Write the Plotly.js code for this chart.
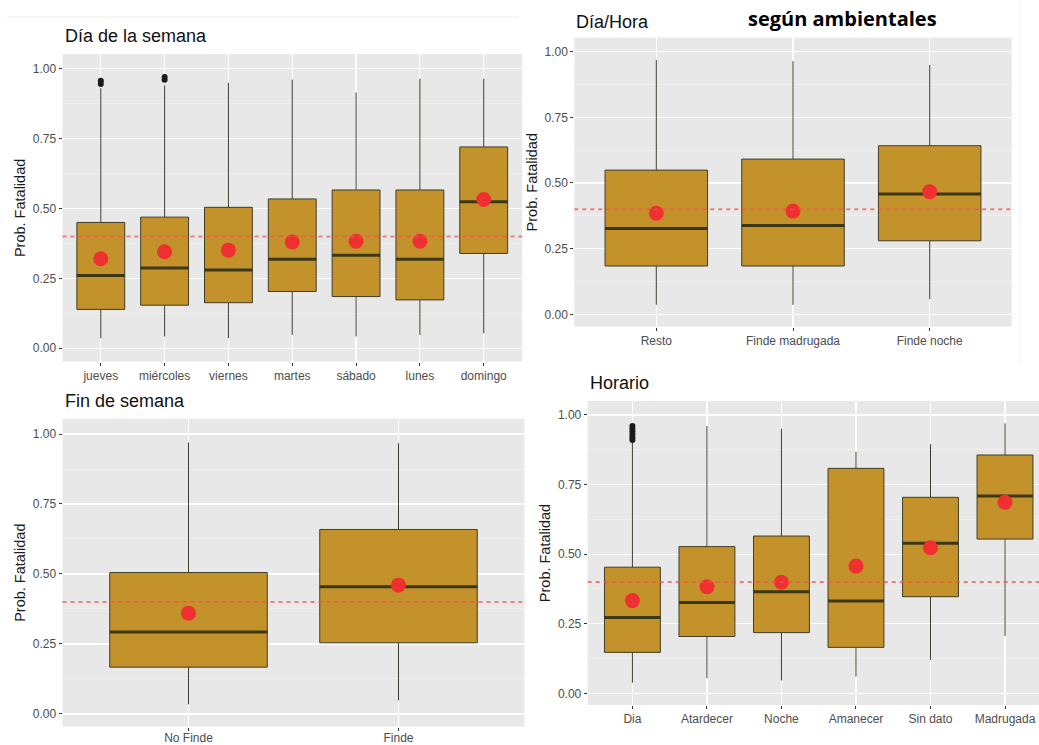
<!DOCTYPE html>
<html>
<head>
<meta charset="utf-8">
<script src="https://cdn.plot.ly/plotly-3.0.1.min.js"></script>
<style>html,body{margin:0;padding:0;background:#fff}#chart{width:1039px;height:745px}</style>
</head>
<body>
<div id="chart"></div>
<script>
// ---------- Data ----------
// Panel 1: Día de la semana
const dayCats  = ['jueves','miércoles','viernes','martes','sábado','lunes','domingo'];
const dayLow   = [0.036, 0.042, 0.036, 0.048, 0.042, 0.048, 0.054];
const dayQ1    = [0.139, 0.154, 0.163, 0.203, 0.185, 0.173, 0.339];
const dayMed   = [0.260, 0.287, 0.280, 0.318, 0.333, 0.318, 0.524];
const dayQ3    = [0.450, 0.469, 0.504, 0.534, 0.566, 0.566, 0.720];
const dayHigh  = [0.930, 0.940, 0.949, 0.961, 0.915, 0.964, 0.964];
const dayMean  = [0.320, 0.345, 0.351, 0.380, 0.383, 0.383, 0.532];
const dayOutCat = ['jueves','jueves','miércoles','miércoles'];
const dayOutVal = [0.945, 0.957, 0.960, 0.970];

// Panel 2: Día/Hora
const dhCats  = ['Resto','Finde madrugada','Finde noche'];
const dhLow   = [0.036, 0.036, 0.058];
const dhQ1    = [0.184, 0.184, 0.280];
const dhMed   = [0.327, 0.338, 0.458];
const dhQ3    = [0.549, 0.591, 0.642];
const dhHigh  = [0.968, 0.964, 0.949];
const dhMean  = [0.385, 0.393, 0.467];

// Panel 3: Fin de semana
const finCats = ['No Finde','Finde'];
const finLow  = [0.034, 0.048];
const finQ1   = [0.167, 0.254];
const finMed  = [0.293, 0.454];
const finQ3   = [0.505, 0.659];
const finHigh = [0.970, 0.967];
const finMean = [0.360, 0.460];

// Panel 4: Horario
const horCats = ['Dia','Atardecer','Noche','Amanecer','Sin dato','Madrugada'];
const horLow  = [0.038, 0.054, 0.046, 0.060, 0.120, 0.206];
const horQ1   = [0.147, 0.204, 0.218, 0.165, 0.347, 0.554];
const horMed  = [0.272, 0.326, 0.365, 0.332, 0.539, 0.709];
const horQ3   = [0.453, 0.527, 0.565, 0.808, 0.704, 0.856];
const horHigh = [0.900, 0.960, 0.950, 0.868, 0.895, 0.970];
const horMean = [0.333, 0.383, 0.399, 0.457, 0.523, 0.686];
const horOutCat = ['Dia','Dia','Dia','Dia','Dia','Dia'];
const horOutVal = [0.910, 0.920, 0.930, 0.940, 0.950, 0.960];

const refLine = 0.40;
const yTicks = [0, 0.25, 0.5, 0.75, 1.0];
const yTickText = ['0.00','0.25','0.50','0.75','1.00'];

// ---------- Styles ----------
const FILL = '#C4922A';
const EDGE = '#3f3d2a';
const MED  = '#3a3814';
const RED  = '#EF3030';
const BOXW = 0.75;

const panels = [
  {cats: dayCats, low: dayLow, q1: dayQ1, med: dayMed, q3: dayQ3, high: dayHigh, mean: dayMean, outCat: dayOutCat, outVal: dayOutVal, ax: ''},
  {cats: dhCats, low: dhLow, q1: dhQ1, med: dhMed, q3: dhQ3, high: dhHigh, mean: dhMean, outCat: [], outVal: [], ax: '2'},
  {cats: finCats, low: finLow, q1: finQ1, med: finMed, q3: finQ3, high: finHigh, mean: finMean, outCat: [], outVal: [], ax: '3'},
  {cats: horCats, low: horLow, q1: horQ1, med: horMed, q3: horQ3, high: horHigh, mean: horMean, outCat: horOutCat, outVal: horOutVal, ax: '4'}
];

const traces = [];
const shapes = [];
panels.forEach(p => {
  const idx = p.cats.map((c, i) => i);
  const xa = 'x' + p.ax, ya = 'y' + p.ax;
  traces.push({
    type: 'box', xaxis: xa, yaxis: ya, x: idx,
    q1: p.q1, median: p.med, q3: p.q3, lowerfence: p.low, upperfence: p.high,
    width: BOXW, whiskerwidth: 0, fillcolor: FILL,
    line: {color: EDGE, width: 1}, boxpoints: false, showlegend: false, hoverinfo: 'skip'
  });
  // thick median segments
  const mx = [], my = [];
  idx.forEach(i => { mx.push(i - BOXW / 2, i + BOXW / 2, null); my.push(p.med[i], p.med[i], null); });
  traces.push({type: 'scatter', mode: 'lines', xaxis: xa, yaxis: ya, x: mx, y: my,
    line: {color: MED, width: 3}, showlegend: false, hoverinfo: 'skip'});
  // outliers
  if (p.outCat.length) {
    traces.push({type: 'scatter', mode: 'markers', xaxis: xa, yaxis: ya,
      x: p.outCat.map(c => p.cats.indexOf(c)), y: p.outVal,
      marker: {color: '#1a1a1a', size: 6}, showlegend: false, hoverinfo: 'skip'});
  }
  // means
  traces.push({type: 'scatter', mode: 'markers', xaxis: xa, yaxis: ya, x: idx, y: p.mean,
    marker: {color: RED, size: 15}, showlegend: false});
  // reference line
  shapes.push({type: 'line', xref: xa + ' domain', yref: ya, x0: 0, x1: 1, y0: refLine, y1: refLine,
    line: {color: 'rgba(245,80,80,0.7)', width: 2, dash: '4px,4px'}, layer: 'above'});
});

function xAxis(cats, domain, anchor, rmax, standoff) {
  return {domain: domain, anchor: anchor, range: [-0.6, rmax], tickmode: 'array',
    tickvals: cats.map((c, i) => i), ticktext: cats, showgrid: true, gridcolor: '#FFFFFF', gridwidth: 1.2,
    zeroline: false, showline: false, ticks: 'outside', ticklen: 3, tickcolor: '#333333',
    ticklabelstandoff: standoff || 0,
    tickfont: {family: 'Liberation Sans, Arial, sans-serif', size: 12, color: '#4D4D4D'}, fixedrange: true};
}
function yAxis(domain, anchor, range) {
  return {domain: domain, anchor: anchor, range: range, tickmode: 'array', tickvals: yTicks, ticktext: yTickText,
    showgrid: true, gridcolor: '#FFFFFF', gridwidth: 1.2, zeroline: false, showline: false,
    minor: {tickvals: [0.125, 0.375, 0.625, 0.875], showgrid: true, gridcolor: '#F4F4F4', gridwidth: 0.6},
    ticks: 'outside', ticklen: 3, tickcolor: '#333333',
    tickfont: {family: 'Liberation Sans, Arial, sans-serif', size: 12, color: '#4D4D4D'},
    title: {text: 'Prob. Fatalidad', standoff: 3, font: {family: 'Liberation Sans, Arial, sans-serif', size: 14.5, color: '#1a1a1a'}},
    fixedrange: true};
}

const W = 1039, H = 745;
const px = v => v / W, py = v => 1 - v / H;

// faint frame artefacts of the composed image
shapes.push({type: 'line', xref: 'paper', yref: 'paper', x0: px(7), x1: px(519), y0: py(17), y1: py(17), line: {color: '#EDEDED', width: 1}});
shapes.push({type: 'line', xref: 'paper', yref: 'paper', x0: px(1020), x1: px(1020), y0: py(0), y1: py(365), line: {color: '#F0F0F0', width: 1}});
shapes.push({type: 'line', xref: 'paper', yref: 'paper', x0: px(523), x1: px(523), y0: py(418), y1: py(720), line: {color: '#EDEDED', width: 1}});

const titleFont = {family: 'Liberation Sans, Arial, sans-serif', size: 18, color: '#111111'};
const layout = {
  width: W, height: H, margin: {l: 0, r: 0, t: 0, b: 0},
  paper_bgcolor: '#FFFFFF', plot_bgcolor: '#E8E8E8', showlegend: false,
  xaxis:  xAxis(dayCats, [px(62.5), px(522)], 'y', 6.6),
  yaxis:  yAxis([py(361.7), py(54.1)], 'x', [-0.048, 1.052]),
  xaxis2: xAxis(dhCats, [px(574.3), px(1011.7)], 'y2', 2.6),
  yaxis2: yAxis([py(326.7), py(37.7)], 'x2', [-0.047, 1.053]),
  xaxis3: xAxis(finCats, [px(62.5), px(524.5)], 'y3', 1.6, -3),
  yaxis3: yAxis([py(726.5), py(418.9)], 'x3', [-0.045, 1.054]),
  xaxis4: xAxis(horCats, [px(587.7), 1], 'y4', 5.456),
  yaxis4: yAxis([py(705), py(401)], 'x4', [-0.042, 1.05]),
  shapes: shapes,
  annotations: [
    {text: 'Día de la semana', xref: 'paper', yref: 'paper', x: px(62.5), y: py(35.5), xanchor: 'left', yanchor: 'middle', showarrow: false, font: titleFont},
    {text: 'Día/Hora', xref: 'paper', yref: 'paper', x: px(574), y: py(22), xanchor: 'left', yanchor: 'middle', showarrow: false, font: titleFont},
    {text: 'Fin de semana', xref: 'paper', yref: 'paper', x: px(62.5), y: py(401), xanchor: 'left', yanchor: 'middle', showarrow: false, font: titleFont},
    {text: 'Horario', xref: 'paper', yref: 'paper', x: px(588), y: py(383.3), xanchor: 'left', yanchor: 'middle', showarrow: false, font: titleFont},
    {text: '<b>según ambientales</b>', xref: 'paper', yref: 'paper', x: px(842), y: py(18), xanchor: 'center', yanchor: 'middle', showarrow: false,
     font: {family: 'Open Sans, Noto Sans, sans-serif', size: 20, color: '#000000'}}
  ]
};

Plotly.newPlot('chart', traces, layout, {staticPlot: true, displayModeBar: false});
</script>
</body>
</html>
